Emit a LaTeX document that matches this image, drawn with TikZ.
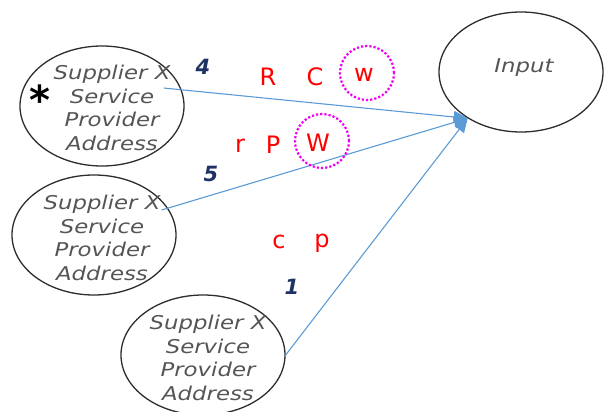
\documentclass[tikz,border=0pt]{standalone}
\usepackage{fontspec}
\usetikzlibrary{shapes.geometric,arrows.meta}

\newfontfamily\handfont[FakeStretch=1.2]{DejaVu Sans}
\newfontfamily\numfont{DejaVu Sans}
\newfontfamily\letterfont{DejaVu Sans}

\begin{document}
\begin{tikzpicture}[x=1pt,y=-1pt]

    % Colors
    \definecolor{bubbleline}{RGB}{45,45,45}
    \definecolor{textgray}{RGB}{85,85,85}
    \definecolor{feedblue}{RGB}{91,155,213}
    \definecolor{numnavy}{RGB}{31,50,100}
    \definecolor{ringpink}{RGB}{240,0,240}

    \tikzset{
        bubble/.style={draw=bubbleline, line width=1.3pt, ellipse,
            minimum width=164pt, minimum height=120pt, inner sep=0pt},
        bubbletext/.style={text=textgray, align=center, inner sep=0pt,
            font=\handfont\itshape\fontsize{19}{23.5}\selectfont},
        feed/.style={draw=feedblue, line width=1.1pt,
            -{Triangle[length=14pt,width=12pt,fill=feedblue]}},
        stepno/.style={text=numnavy, font=\numfont\bfseries\itshape\fontsize{21}{24}\selectfont},
        redletter/.style={text=red, font=\letterfont\fontsize{24}{28}\selectfont},
        ring/.style={draw=ringpink, dotted, line width=2.2pt, circle,
            minimum size=54pt, inner sep=0pt}
    }

    \useasboundingbox (0,0) rectangle (605,412);

    % Supplier circles
    \node[bubble] (sup1) at (102,106) {};
    \node[bubbletext] (sup1txt) at (112,108) {Supplier X\\Service\\Provider\\Address};

    \node[bubble] (sup2) at (94,235) {};
    \node[bubbletext] (sup2txt) at (102,238) {Supplier X\\Service\\Provider\\Address};

    \node[bubble] (sup3) at (203,355) {};
    \node[bubbletext] (sup3txt) at (208,358) {Supplier X\\Service\\Provider\\Address};

    \node[font=\numfont\bfseries\fontsize{40}{40}\selectfont] (star) at (40,100) {*};

    % Input circle
    \node[bubble] (input) at (521,72) {};
    \node[bubbletext] (inputtxt) at (524,68) {Input};

    % Connectors
    \coordinate (tip) at (input.221);
    \draw[feed] ([shift={(-21,-18)}]sup1.east) -- (tip);
    \draw[feed] ([shift={(-15,-25)}]sup2.east) -- (tip);
    \draw[feed] (sup3.east) -- (tip);

    % Step numbers
    \node[stepno] (no4) at (203,67) {4};
    \node[stepno] (no5) at (211,174) {5};
    \node[stepno] (no1) at (292,287) {1};

    % Letters
    \node[redletter] (ltR) at (268,77) {R};
    \node[redletter] (ltC) at (315,77) {C};
    \node[redletter] (ltw) at (364,75) {w};
    \node[redletter] (ltr) at (240,146) {r};
    \node[redletter] (ltP) at (273,145) {P};
    \node[redletter] (ltW) at (318,143) {W};
    \node[redletter] (ltc) at (279,242) {c};
    \node[redletter] (ltp) at (322,243) {p};

    \node[ring] (ringw) at (367,73) {};
    \node[ring] (ringW) at (322,141) {};

\end{tikzpicture}
\end{document}
